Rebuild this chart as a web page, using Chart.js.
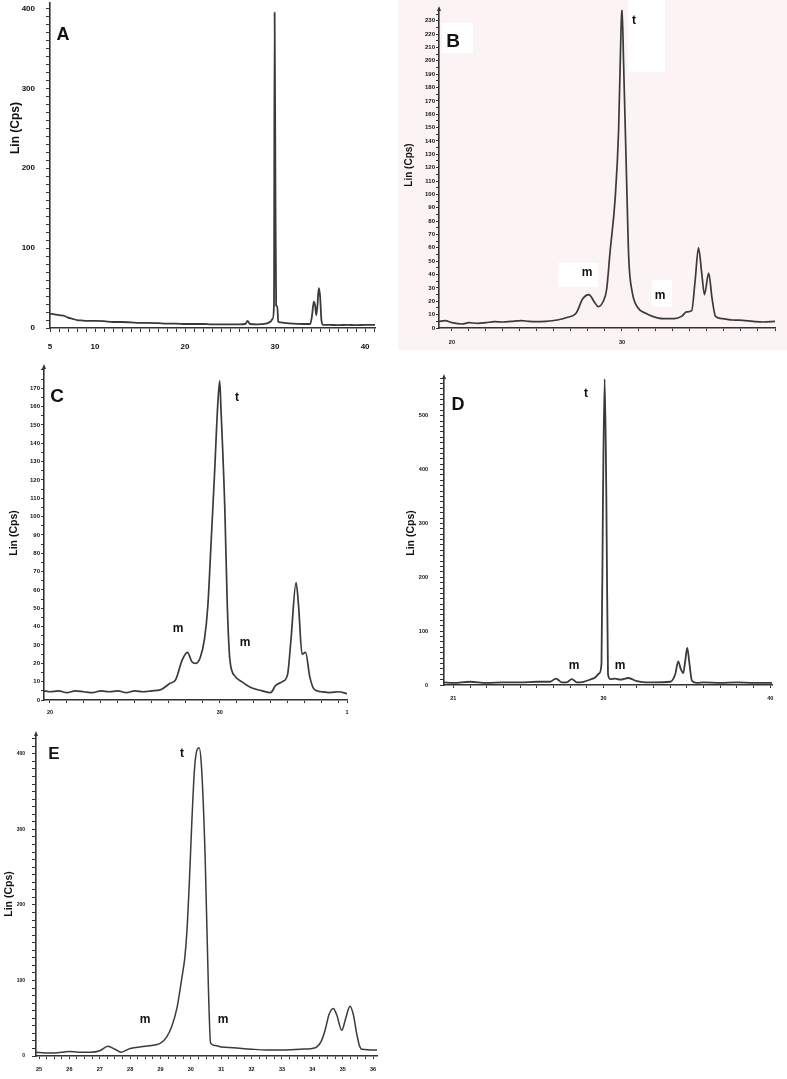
<!DOCTYPE html>
<html><head><meta charset="utf-8">
<script src="https://cdn.jsdelivr.net/npm/chart.js@4.4.1/dist/chart.umd.min.js"></script>
<style>
html,body{margin:0;padding:0;background:#fff;}
#page{position:relative;width:787px;height:1079px;overflow:hidden;font-family:"Liberation Sans",Arial,sans-serif;}
canvas{position:absolute;}
.lbl{position:absolute;font-weight:bold;color:#111;line-height:1;white-space:nowrap;transform:translate(-50%,-50%);}
.yt{position:absolute;font-weight:bold;color:#111;white-space:nowrap;line-height:1;transform:translate(-50%,-50%) rotate(-90deg);}
.box{position:absolute;background:#fff;}
#pink{position:absolute;left:398px;top:0;width:389px;height:350px;background:rgb(252,243,244);}
</style></head>
<body>
<div id="page"><div id="pink"></div></div>
<script>
// ---------- DATA ----------
const xA = [5,5.5,6,6.5,7,7.5,8,8.5,9,10,11,12,13,14,15,16,17,18,19,20,21,22,23,24,25,26,26.7,26.95,27.2,28,29,29.5,29.75,29.88,29.95,30.05,30.12,30.25,30.35,30.6,31,32,33,33.9,34.1,34.3,34.45,34.58,34.72,34.85,35.0,35.15,35.35,36,37,38,39,40,41.1];
const yA = [18,17,16,15.5,13,11.5,10,9.5,9,9,8.5,7.5,7.5,7,6.5,6.5,6,5.5,5.5,5,5,5,4.5,4.5,4.5,4.5,5,9,5,4.5,5.5,8,12,30,395,150,28,27,8,7,6.5,5.5,5,5,15,33,28,16,30,50,40,10,4,4,3.5,4,3.5,4,4];

const xB = [19.24,19.6,20.0,20.6,21.0,21.5,22.0,22.5,23.0,23.5,24.1,24.5,24.9,25.5,26.2,26.8,27.3,27.7,28.05,28.4,28.6,28.9,29.1,29.3,29.6,29.8,29.94,30.0,30.1,30.3,30.4,30.6,30.95,31.4,31.8,32.4,33.1,33.5,33.8,34.1,34.3,34.5,34.7,34.85,35.1,35.3,35.5,35.9,36.5,37.1,37.7,38.3,39];
const yB = [5,5.5,4,3,4,3.5,4,4.7,4.5,5,5.5,5,4.7,5,6,8,11,22,25,19,16,20,29,57,97,147,221,240,196,97,52,27,15,11,8.7,7,7,8.7,12,13,35,60,40,25,41,22,8.7,7,6,5.7,5,4.5,5];

const xC = [19.65,20.0,20.5,21.0,21.5,22.0,22.5,23.0,23.5,24.0,24.5,25.0,25.5,26.0,26.5,27.06,27.4,27.8,28.1,28.35,28.6,28.85,29.1,29.3,29.5,29.7,29.88,30.0,30.07,30.3,30.45,30.6,30.9,31.3,31.8,32.5,33.0,33.3,33.7,34.0,34.2,34.5,34.65,34.85,35.06,35.3,35.55,36.0,36.5,37.0,37.5];
const yC = [5,4.5,5,4,5,4.5,4,5,4.5,5,4,5,4.5,5,5.5,9,11,22,26,21,20,23,33,51,87,124,160,174,160,105,51,22,13,10,7,5,4,8,10,14,33,64,51,25,26,13,6,4.5,4,4.5,3.5];

const xD = [20.44,21,22,23,24,25,26,26.8,27.15,27.5,27.8,28.1,28.4,28.8,29.2,29.5,29.75,29.88,29.97,30.07,30.17,30.27,30.4,30.7,31,31.5,32,32.5,33,34,34.3,34.48,34.63,34.78,34.9,35.02,35.15,35.3,35.6,36,37,38,39,40.1];
const yD = [5,4,6,4,5,5,6,6,12,5,5,11,5,6,10,14,22,40,350,568,350,20,11,12,10,13,7,5,5,6,20,44,30,22,45,69,40,8,4,5,4,5,4,4];

const xE = [24.9,25.2,25.5,26,26.3,26.7,27.0,27.27,27.5,27.7,28.0,28.5,29.0,29.2,29.37,29.55,29.64,29.73,29.8,29.87,29.95,30.03,30.12,30.2,30.27,30.35,30.47,30.58,30.65,30.8,31.0,31.4,32,32.5,33,33.6,34.0,34.15,34.3,34.42,34.55,34.69,34.8,34.97,35.1,35.24,35.35,35.46,35.55,35.63,36.13];
const yE = [5,4,4,6,5,5,7,13,9,5,10,13,17,25,39,65,87,110,130,165,230,308,380,405,408,383,264,87,17,14,12,11,9,8,8,9,10,12,20,34,55,63,55,34,50,66,55,30,14,9,8];

// tick labels
const xLabA = [5,10,20,30,40];           const xTxtA = ['5','10','20','30','40'];
const yLabA = [0,100,200,300,400];
const xLabB = [20,30];                    const xTxtB = ['20','30'];
const yLabB = [0,10,20,30,40,50,60,70,80,90,100,110,120,130,140,150,160,170,180,190,200,210,220,230];
const xLabC = [20,30,37.5];               const xTxtC = ['20','30','1'];
const yLabC = [0,10,20,30,40,50,60,70,80,90,100,110,120,130,140,150,160,170];
const xLabD = [21,30,40];                 const xTxtD = ['21','30','40'];
const yLabD = [0,100,200,300,400,500];
const xLabE = [25,26,27,28,29,30,31,32,33,34,35,36];
const xTxtE = ['25','26','27','28','29','30','31','32','33','34','35','36'];
const yLabE = [0,100,200,300,400];

// ---------- helpers ----------
function range(a,b,s){const o=[];for(let v=a;v<=b+1e-9;v+=s)o.push(Math.round(v*1000)/1000);return o;}
function lab(vals,txts,v){for(let i=0;i<vals.length;i++){if(Math.abs(vals[i]-v)<1e-6)return txts?txts[i]:String(vals[i]);}return '';}

const page=document.getElementById('page');

const panels=[
 {xs:xA,ys:yA,cl:0,ct:0,cw:392,ch:360,L:50,T:3,R:375,B:328,xmin:5,xmax:41.1,ymin:0,ymax:407,arrow:false,
  xt:range(5,41,1),yt:range(0,400,10),xl:xLabA,xtx:xTxtA,yl:yLabA,xfs:8,yfs:8,xpad:10,ypad:11,xtl:4,ytl:4,lw:1.8},
 {xs:xB,ys:yB,cl:395,ct:0,cw:392,ch:355,L:439,T:10,R:775,B:328,xmin:19.24,xmax:39,ymin:0,ymax:238,arrow:true,
  xt:range(20,39,1),yt:range(0,235,5),xl:xLabB,xtx:xTxtB,yl:yLabB,xfs:5.5,yfs:6,xpad:8,ypad:1,xtl:3,ytl:3,lw:1.7},
 {xs:xC,ys:yC,cl:0,ct:355,cw:392,ch:370,L:44,T:368,R:347,B:700,xmin:19.65,xmax:37.5,ymin:0,ymax:181,arrow:true,
  xt:range(20,37,1).concat([37.5]),yt:range(0,180,5),xl:xLabC,xtx:xTxtC,yl:yLabC,xfs:5.5,yfs:6,xpad:6,ypad:1,xtl:3,ytl:3,lw:1.7},
 {xs:xD,ys:yD,cl:395,ct:355,cw:392,ch:355,L:444,T:378,R:772,B:685,xmin:20.44,xmax:40.1,ymin:0,ymax:570,arrow:true,
  xt:range(21,40,1),yt:range(0,570,10),xl:xLabD,xtx:xTxtD,yl:yLabD,xfs:5.5,yfs:5.5,xpad:7,ypad:12,xtl:3,ytl:4,lw:1.8},
 {xs:xE,ys:yE,cl:0,ct:720,cw:392,ch:359,L:36,T:735,R:377,B:1056,xmin:24.9,xmax:36.13,ymin:0,ymax:425,arrow:true,
  xt:range(25,36,0.25),yt:range(0,420,10),xl:xLabE,xtx:xTxtE,yl:yLabE,xfs:5.5,yfs:5,xpad:7,ypad:7,xtl:3,ytl:4,lw:1.5}
];

function addBox(x0,y0,x1,y1){const d=document.createElement('div');d.className='box';d.style.left=x0+'px';d.style.top=y0+'px';d.style.width=(x1-x0)+'px';d.style.height=(y1-y0)+'px';page.appendChild(d);}
// white patches on panel B
addBox(442,23,473,53); addBox(628,0,665,72); addBox(558,263,598,287); addBox(652,280,672,307);

// small arrowhead at the top of the y axis
const axisArrow={id:'axisArrow',afterDraw(chart,args,opts){
  if(!opts.show)return;
  const a=chart.chartArea,ctx=chart.ctx;
  ctx.save();ctx.fillStyle='#333';ctx.beginPath();
  ctx.moveTo(a.left,a.top-4);ctx.lineTo(a.left-2,a.top+1);ctx.lineTo(a.left+2,a.top+1);ctx.closePath();ctx.fill();
  ctx.restore();}};

panels.forEach(p=>{
  const c=document.createElement('canvas');
  c.width=p.cw;c.height=p.ch;
  c.style.left=p.cl+'px';c.style.top=p.ct+'px';c.style.width=p.cw+'px';c.style.height=p.ch+'px';
  page.appendChild(c);
  const W=p.L-p.cl, H=p.ct+p.ch-p.B;
  new Chart(c,{
    type:'line',
    plugins:[axisArrow],
    data:{datasets:[{data:p.xs.map((x,i)=>({x:x,y:p.ys[i]})),borderColor:'#3a3a3a',borderWidth:p.lw,pointRadius:0,fill:false,cubicInterpolationMode:'monotone'}]},
    options:{
      responsive:false,animation:false,devicePixelRatio:1,
      layout:{autoPadding:false,padding:{left:0,top:p.T-p.ct,right:p.cl+p.cw-p.R,bottom:0}},
      plugins:{legend:{display:false},tooltip:{enabled:false},axisArrow:{show:p.arrow}},
      scales:{
        x:{type:'linear',min:p.xmin,max:p.xmax,
          afterBuildTicks:s=>{s.ticks=p.xt.map(v=>({value:v}));},
          afterFit:s=>{s.height=H;s.paddingLeft=0;s.paddingRight=0;},
          ticks:{autoSkip:false,maxRotation:0,minRotation:0,padding:p.xpad,color:'#111',
            font:{family:'Liberation Sans',size:p.xfs,weight:'bold'},callback:v=>lab(p.xl,p.xtx,v)},
          grid:{drawOnChartArea:false,drawTicks:true,tickLength:p.xtl,tickColor:'#333',tickWidth:1},
          border:{display:true,color:'#333',width:1.6}},
        y:{type:'linear',min:p.ymin,max:p.ymax,
          afterBuildTicks:s=>{s.ticks=p.yt.map(v=>({value:v}));},
          afterFit:s=>{s.width=W;s.paddingTop=0;s.paddingBottom=0;},
          ticks:{autoSkip:false,padding:p.ypad,color:'#111',
            font:{family:'Liberation Sans',size:p.yfs,weight:'bold'},callback:v=>lab(p.yl,null,v)},
          grid:{drawOnChartArea:false,drawTicks:true,tickLength:p.ytl,tickColor:'#333',tickWidth:1},
          border:{display:true,color:'#333',width:1.6}}
      }
    }
  });
});

function addLbl(t,x,y,fs,cls){const d=document.createElement('div');d.className=cls||'lbl';d.textContent=t;d.style.left=x+'px';d.style.top=y+'px';d.style.fontSize=fs+'px';page.appendChild(d);}
// panel letters
addLbl('A',63,34,18); addLbl('B',453,40,19); addLbl('C',57,395,19); addLbl('D',458,404,18); addLbl('E',54,753,17);
// peak annotations
addLbl('t',634,20,12); addLbl('m',587,272,12); addLbl('m',660,295,12);
addLbl('t',237,397,12); addLbl('m',178,628,12); addLbl('m',245,642,12);
addLbl('t',586,393,12); addLbl('m',574,665,12); addLbl('m',620,665,12);
addLbl('t',182,753,12); addLbl('m',145,1019,12); addLbl('m',223,1019,12);
// y-axis titles
addLbl('Lin (Cps)',15,128,12,'yt'); addLbl('Lin (Cps)',409,165,10,'yt'); addLbl('Lin (Cps)',13,533,10.5,'yt');
addLbl('Lin (Cps)',410,533,10.5,'yt'); addLbl('Lin (Cps)',8,894,10.5,'yt');
</script>
</body></html>
